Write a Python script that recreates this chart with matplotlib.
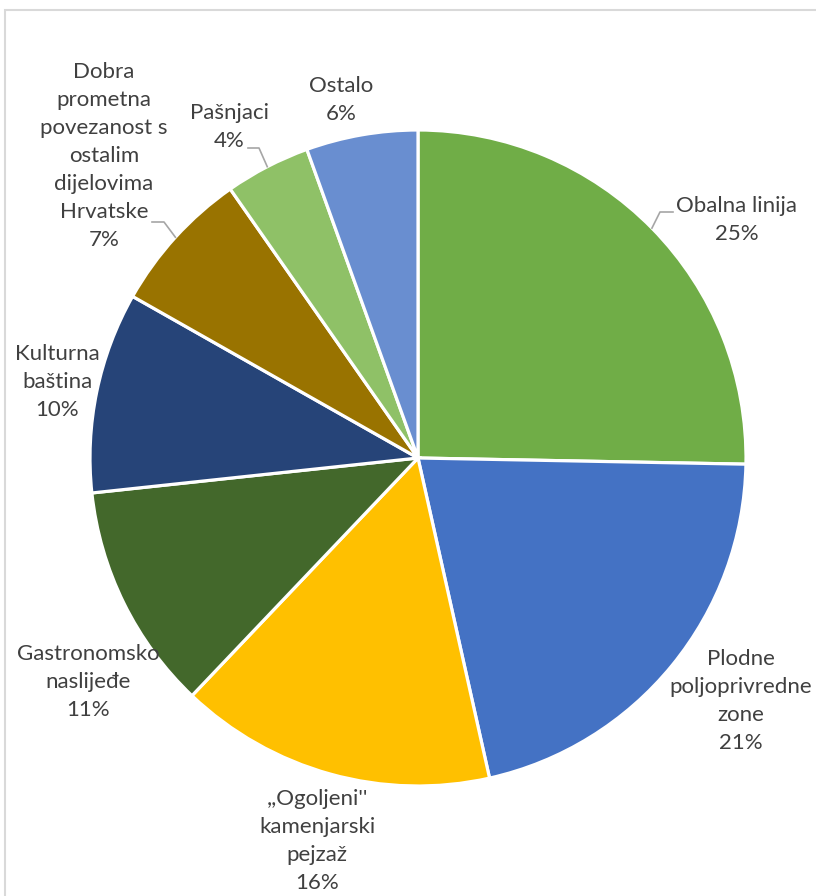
import numpy as np
import matplotlib
matplotlib.use("Agg")
import matplotlib.pyplot as plt
from matplotlib.patches import Rectangle

plt.rcParams['font.family'] = ['Lato', 'DejaVu Sans']

# podaci
categories = ["Obalna linija", "Plodne\npoljoprivredne\nzone", ",,Ogoljeni''\nkamenjarski\npejzaž",
              "Gastronomsko\nnaslijeđe", "Kulturna\nbaština",
              "Dobra\nprometna\npovezanost s\nostalim\ndijelovima\nHrvatske",
              "Pašnjaci", "Ostalo"]
values = [25.3, 21.2, 15.6, 11.2, 9.9, 7.1, 4.2, 5.5]
colors = ["#70AD47", "#4472C4", "#FFC000", "#43682B", "#264478", "#997300", "#8FC167", "#698ED0"]

W, H = 816, 896
cx, cy, R = 418, 458, 328


def px(x, y):
    # piksel -> koordinate podataka
    return (x - cx) / R, (cy - y) / R


fig = plt.figure(figsize=(W / 100, H / 100), dpi=100)
ax = fig.add_axes([0, 0, 1, 1])
wedges, _ = ax.pie(values, colors=colors, startangle=90, counterclock=False,
                   wedgeprops=dict(edgecolor="white", linewidth=2.3))
ax.set_aspect('equal')
ax.set_xlim(-cx / R, (W - cx) / R)
ax.set_ylim(-(H - cy) / R, cy / R)
ax.axis('off')

# okvir grafikona
fig.patches.append(Rectangle((5 / W, -0.1), 2, (H - 10) / H + 0.1, transform=fig.transFigure,
                             fill=False, edgecolor="#D9D9D9", linewidth=1.5))

# pozicije oznaka (pikseli)
label_pos = [(737, 220), (741, 701), (317, 841), (88, 682), (57, 382), (104, 156), (229, 127), (341, 100)]
tc = "#404040"
for i, (lab, v) in enumerate(zip(categories, values)):
    x, y = px(*label_pos[i])
    ax.text(x, y, f"{lab}\n{v:.0f}%", ha="center", va="center", fontsize=16, color=tc,
            linespacing=1.5)

# linije vodilice
leaders = {0: [(673, 212), (660, 212)], 5: [(152, 222), (164, 222)], 6: [(248, 148), (259, 148)]}
for i, pts in leaders.items():
    w = wedges[i]
    if i == 0:
        ang = np.deg2rad(44.5)
    else:
        ang = np.deg2rad((w.theta1 + w.theta2) / 2)
    xs = [px(*p)[0] for p in pts] + [np.cos(ang)]
    ys = [px(*p)[1] for p in pts] + [np.sin(ang)]
    ax.plot(xs, ys, color="#A6A6A6", linewidth=1.2)

fig.savefig("out.png", dpi=100, facecolor="white")
